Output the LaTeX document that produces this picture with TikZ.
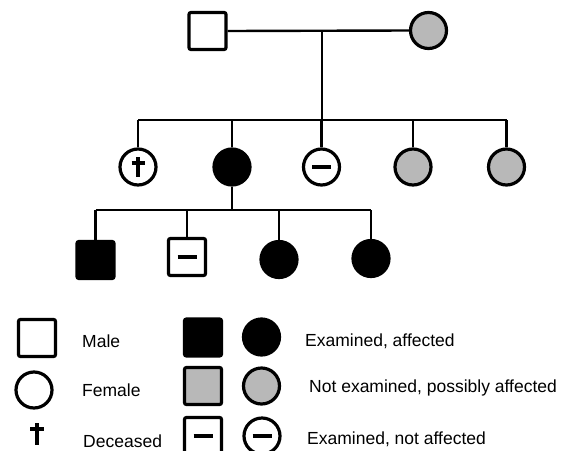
\documentclass[tikz,border=0pt]{standalone}
\usepackage{fontspec}
\setmainfont{Liberation Sans}
\begin{document}
\begin{tikzpicture}[x=1pt,y=-1pt,
  base/.style={draw=black,line width=3.2pt,inner sep=0pt},
  male/.style={base,rectangle,rounded corners=2pt,minimum size=37pt},
  female/.style={base,circle,minimum size=36pt},
  affected/.style={fill=black},
  possible/.style={fill=black!28},
  minusmark/.style={path picture={\draw[line width=3.4pt]
      ([xshift=-9.5pt]path picture bounding box.center) -- ([xshift=9.5pt]path picture bounding box.center);}},
  crossmark/.style={path picture={\draw[line width=3.2pt]
      ([yshift=10pt]path picture bounding box.center) -- ([yshift=-10pt]path picture bounding box.center);
      \draw[line width=3.2pt]
      ([xshift=-6.5pt,yshift=4pt]path picture bounding box.center) -- ([xshift=6.5pt,yshift=4pt]path picture bounding box.center);}},
  link/.style={line width=2.4pt},
  legtext/.style={anchor=base west,inner sep=0pt,font=\fontsize{17.5}{20}\selectfont}
]
\useasboundingbox (0,0) rectangle (575,450);

% generation I
\node[male] (f) at (207.5,31) {};
\node[female,possible] (m) at (428.5,30.5) {};
\coordinate (mid) at (322,30);
\coordinate (sA) at (322,120);
\draw[link] (f.east) -- (m.west);
\draw[link] (mid) -- (sA);

% generation II
\node[female,crossmark] (c1) at (138,167) {};
\node[female,affected] (c2) at (232,167) {};
\node[female,minusmark] (c3) at (321.5,167) {};
\node[female,possible] (c4) at (413,167) {};
\node[female,possible] (c5) at (506.5,167) {};
\foreach \i/\x in {1/138,2/232,3/321.5,4/413,5/506.5}{
  \coordinate (t\i) at (\x,120);
}
\draw[link] (t1) -- (t5);
\foreach \i in {1,...,5}{ \draw[link] (t\i) -- (c\i.north); }

% generation III
\coordinate (sB) at (232,210);
\draw[link] (c2.south) -- (sB);
\node[male,affected] (g1) at (95.5,260) {};
\node[male,minusmark] (g2) at (187,257) {};
\node[female,affected] (g3) at (279,259.5) {};
\node[female,affected] (g4) at (371,258.5) {};
\foreach \i/\x in {1/95.5,2/187,3/279,4/371}{
  \coordinate (u\i) at (\x,210);
}
\draw[link] (u1) -- (u4);
\foreach \i in {1,...,4}{ \draw[link] (u\i) -- (g\i.north); }

% legend
\node[male] (lm) at (37,338) {};
\node[legtext] (tm) at (82,347) {Male};
\node[female] (lf) at (34,390) {};
\node[legtext] (tf) at (82,396) {Female};
\draw[line width=3.2pt] (37,423) -- (37,445);
\draw[line width=3.2pt] (30,429) -- (44,429);
\node[legtext] (td) at (83,447) {Deceased};

\node[male,affected] (la1) at (203,337.5) {};
\node[female,affected] (la2) at (261.5,337) {};
\node[legtext] (ta) at (305,346) {Examined, affected};

\node[male,possible] (lp1) at (203,386) {};
\node[female,possible] (lp2) at (261.5,386) {};
\node[legtext] (tp) at (309,392) {Not examined, possibly affected};

\node[male,minusmark] (ln1) at (203,436) {};
\node[female,minusmark] (ln2) at (262,436) {};
\node[legtext] (tn) at (307,444) {Examined, not affected};
\end{tikzpicture}
\end{document}
